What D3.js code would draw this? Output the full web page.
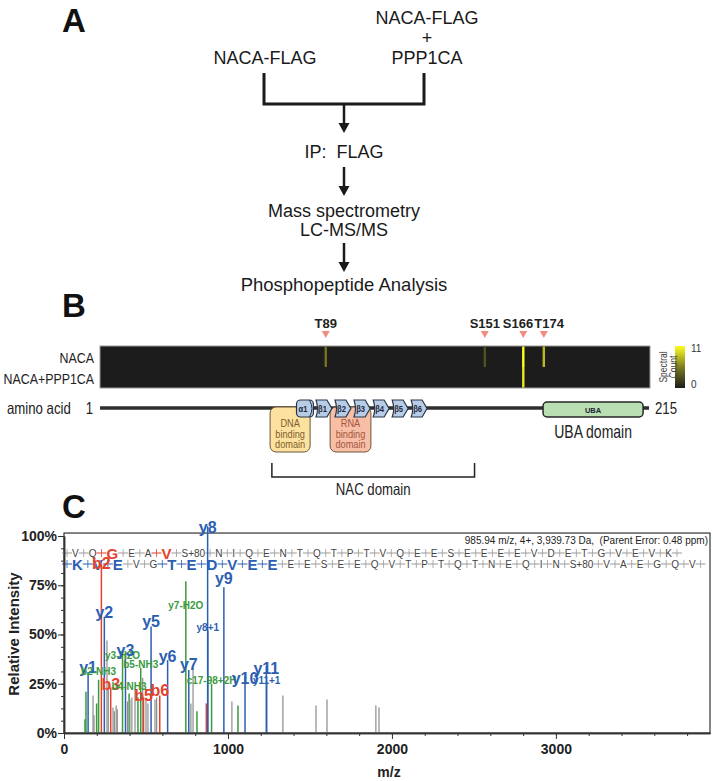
<!DOCTYPE html>
<meta charset="utf-8">
<style>
body { margin: 0; background: #fff; }
svg { font-family: "Liberation Sans", Arial, sans-serif; }
</style>
<svg width="713" height="781"></svg>
<script src="https://d3js.org/d3.v7.min.js"></script>
<script>

// ---------- panel A : workflow ----------
var leftSample = "NACA-FLAG";
var rightSample = ["NACA-FLAG", "+", "PPP1CA"];
var flowSteps = [["IP:\u00a0 FLAG"], ["Mass spectrometry", "LC-MS/MS"], ["Phosphopeptide Analysis"]];

// ---------- panel B : phosphosites + domain map ----------
var proteinLength = 215;
var sampleNames = ["NACA", "NACA+PPP1CA"];
var siteNames = ["T89", "S151", "S166", "T174"];
var sitePositions = [89, 151, 166, 174];
var countsNACA = [5, 3, 11, 8];
var countsPPP1CA = [0, 0, 10, 0];
var countMax = 11;
var structNames = ["α1", "β1", "β2", "β3", "β4", "β5", "β6"];
var structStart = [77.6, 85.2, 92.6, 100, 107.5, 114.9, 122.3];
var structEnd = [84.2, 91.4, 98.8, 106.3, 113.7, 121.1, 128.5];
var domainNames = [["DNA", "binding", "domain"], ["RNA", "binding", "domain"]];
var domainStart = [67.3, 90.7];
var domainEnd = [82.9, 106.6];
var ubaRange = [173.7, 212.7];
var nacRange = [68, 147];

// ---------- panel C : MS/MS spectrum ----------
var peptideForward = ["V","Q","G","E","A","V","S+80","N","I","Q","E","N","T","Q","T","P","T","V","Q","E",
                      "E","S","E","E","E","E","V","D","E","T","G","V","E","V","K"];
var peptideReverse = peptideForward.slice().reverse();
var forwardHits = [2, 5];
var reverseHits = [0, 1, 2, 5, 6, 7, 8, 9, 10];
var headerText = "985.94 m/z, 4+, 3,939.73 Da,\u00a0 (Parent Error: 0.48 ppm)";
var mzMax = 3939.73;

var peakMz = [128, 134, 147, 177, 183, 199, 211, 228, 246, 262,
              270, 285, 299, 307, 318, 325, 357, 375, 387, 397,
              402, 414, 433, 451, 468, 480, 485, 500, 512, 531,
              555, 565, 584, 632, 743, 761, 774, 787, 811, 868,
              876, 877, 900, 975, 1024, 1061, 1104, 1234, 1236, 1335,
              1537, 1604, 1902, 1921];
var peakIntensity = [7, 21, 31, 19, 9, 15, 27, 86, 59, 47,
                     22, 23, 13, 11, 14, 12, 42, 40, 16, 20,
                     17, 18, 22, 18, 33, 28, 18, 17, 15, 54,
                     17, 18, 19, 37, 77, 32, 15, 33, 11, 15,
                     105, 52, 25, 74, 16, 14, 29, 34, 26, 19,
                     14, 17, 14, 13];
var peakType = ["n","n","y","o","o","n","n","b","y","o",
                "o","b","o","o","o","o","n","y","o","n",
                "o","o","o","n","n","o","b","o","o","y",
                "o","o","b","y","n","y","o","o","n","b",
                "y","y","n","y","o","n","y","y","y","o",
                "o","o","o","o"];
var peakLabel = ["","","y1","","","","b2-NH3","b2","y2","",
                 "","b3","","","","","y3-H2O","y3","","b4-NH3",
                 "","","","","b5-NH3","","b5","","","y5",
                 "","","b6","y6","y7-H2O","y7","","","","",
                 "y8","y8+1","c17-98+2H","y9","","","y10","y11","y11+1","",
                 "","","",""];
var labelLevel = [0,0,30.5,0,0,0,29.5,83,58.5,0,
                  0,22,0,0,0,0,37.5,39,0,22,
                  0,0,0,0,33,0,16,0,0,54,
                  0,0,19,36,63,32,0,0,0,0,
                  101.5,52,25,75.6,0,0,25,30,25,0,
                  0,0,0,0];

var typeColor = { b: "#e4412d", y: "#2c5fb2", n: "#3a9a3c", o: "#8c8c8c" };

var svg = d3.select("svg");

// condensed text: the figure's narrow face is not installed, so squeeze Liberation Sans
function narrow(g, px, py, txt, size, anchor, fill) {
  return g.append("text")
      .attr("transform", "translate(" + px + "," + py + ") scale(0.8,1)")
      .attr("text-anchor", anchor || "start")
      .attr("font-size", size)
      .attr("fill", fill || "#222")
      .text(txt);
}

// panel letters
[["A", 32], ["B", 317], ["C", 518]].forEach(function(p) {
  svg.append("text").attr("x", 62).attr("y", p[1])
      .attr("font-size", 33).attr("font-weight", "bold").attr("fill", "#111").text(p[0]);
});

// ================= panel A =================
var gA = svg.append("g").attr("font-size", 18).attr("fill", "#1a1a1a").attr("text-anchor", "middle");
var leftX = 264, rightX = 424, flowX = 344;

gA.append("text").attr("x", leftX + 1).attr("y", 64).text(leftSample);
gA.selectAll(".rs").data(rightSample).enter().append("text")
    .attr("x", rightX + 3)
    .attr("y", function(d, i) { return 24 + i * 20; })
    .attr("font-weight", function(d) { return d === "+" ? 300 : null; })
    .text(function(d) { return d; });

gA.append("path")
    .attr("d", "M" + leftX + ",73V104H" + rightX + "V73")
    .attr("fill", "none").attr("stroke", "#1a1a1a").attr("stroke-width", 3);

function arrow(y0, y1) {
  gA.append("line").attr("x1", flowX).attr("x2", flowX).attr("y1", y0).attr("y2", y1 - 8)
      .attr("stroke", "#1a1a1a").attr("stroke-width", 2.5);
  gA.append("path").attr("d", "M" + (flowX - 5.5) + "," + (y1 - 10) + "L" + (flowX + 5.5) + "," + (y1 - 10) + "L" + flowX + "," + y1 + "Z")
      .attr("fill", "#1a1a1a");
}
var stepTop = [158, 217, 291];
var arrowSpans = [[104, 133], [167, 196], [243, 272]];
flowSteps.forEach(function(lines, i) {
  arrow(arrowSpans[i][0], arrowSpans[i][1]);
  lines.forEach(function(t, j) {
    gA.append("text").attr("x", flowX).attr("y", stepTop[i] + j * 19)
        .attr("font-size", i === 2 ? 18.5 : 18).text(t);
  });
});

// ================= panel B =================
var aa = d3.scaleLinear().domain([1, proteinLength]).range([100, 649]);
var rows = d3.scaleBand().domain(sampleNames).range([346, 388]);
var heat = d3.scaleLinear().domain([0, countMax / 2, countMax]).range(["#1c1c1c", "#7d7d22", "#ffff20"]);
var gB = svg.append("g");

// site markers; labels pushed apart where neighbouring sites crowd
var siteLabels = siteNames.map(function(s, i) {
  var t = gB.append("text").attr("y", 328).attr("text-anchor", "middle")
      .attr("font-size", 13).attr("font-weight", "bold").attr("fill", "#222").text(s);
  return { node: t, x: aa(sitePositions[i]), w: t.node().getComputedTextLength() };
});
for (var it = 0; it < 30; it++) {
  for (var k = 0; k < siteLabels.length - 1; k++) {
    var a = siteLabels[k], b = siteLabels[k + 1];
    var need = (a.w + b.w) / 2 + 1, gap = b.x - a.x;
    if (gap < need) { a.x -= (need - gap) / 2; b.x += (need - gap) / 2; }
  }
}
siteLabels.forEach(function(l, i) {
  l.node.attr("x", l.x);
  var px = aa(sitePositions[i]);
  gB.append("path").attr("d", "M" + (px - 4) + ",331L" + (px + 4) + ",331L" + px + ",338Z").attr("fill", "#f28b82");
});

// heatmap
gB.append("rect").attr("x", aa(1)).attr("y", rows.range()[0]).attr("width", aa(proteinLength) - aa(1) + 1)
    .attr("height", rows.range()[1] - rows.range()[0])
    .attr("fill", heat(0)).attr("stroke", "#9a9a9a").attr("stroke-width", 1);
var sampleCounts = [countsNACA, countsPPP1CA];
sampleNames.forEach(function(name, r) {
  sitePositions.forEach(function(pos, i) {
    var c = sampleCounts[r][i];
    if (!c) return;
    gB.append("rect").attr("x", aa(pos) - 1.2).attr("y", rows(name) + (r === 0 ? 0.5 : 0))
        .attr("width", 2.4).attr("height", rows.bandwidth() - 0.5).attr("fill", heat(c));
  });
  narrow(gB, 94, rows(name) + rows.bandwidth() / 2 + 6, name, 15.5, "end");
});

// colour bar
var cbar = d3.scaleLinear().domain([0, countMax]).range([388, 346]);
var grad = svg.append("defs").append("linearGradient").attr("id", "cb")
    .attr("x1", 0).attr("x2", 0).attr("y1", 1).attr("y2", 0);
grad.selectAll("stop").data([0, countMax / 2, countMax]).enter().append("stop")
    .attr("offset", function(d) { return d / countMax; })
    .attr("stop-color", function(d) { return heat(d); });
gB.append("rect").attr("x", 675).attr("y", cbar(countMax)).attr("width", 10)
    .attr("height", cbar(0) - cbar(countMax)).attr("fill", "url(#cb)");
[0, countMax].forEach(function(v) {
  gB.append("text").attr("x", 691).attr("y", cbar(v) + (v ? 6 : 0)).attr("font-size", 10)
      .attr("fill", "#333").text(v);
});
var cbLabel = gB.append("text").attr("transform", "translate(668,367) rotate(-90) scale(0.85,1)")
    .attr("text-anchor", "middle").attr("font-size", 10).attr("fill", "#444");
cbLabel.append("tspan").attr("x", 0).attr("dy", -1).text("Spectral");
cbLabel.append("tspan").attr("x", 0).attr("dy", 10).text("Count");

// backbone
var lineY = 408;
narrow(gB, 7, lineY + 6, "amino acid", 16.5);
narrow(gB, 93, lineY + 6, "1", 16.5, "end");
narrow(gB, 655, lineY + 6, proteinLength, 16.5);
gB.append("line").attr("x1", aa(1)).attr("x2", aa(proteinLength)).attr("y1", lineY).attr("y2", lineY)
    .attr("stroke", "#2e2e2e").attr("stroke-width", 3.5);

// binding domains
var domainFill = ["#fde19e", "#f8bea6"], domainText = ["#7d5f2f", "#a4563c"];
domainNames.forEach(function(lines, i) {
  var x0 = aa(domainStart[i]), x1 = aa(domainEnd[i]);
  gB.append("rect").attr("x", x0).attr("y", 407).attr("width", x1 - x0).attr("height", 45).attr("rx", 6)
      .attr("fill", domainFill[i]).attr("stroke", "#6a5638").attr("stroke-width", 1);
  lines.forEach(function(t, j) {
    narrow(gB, (x0 + x1) / 2, 427 + j * 10.5, t, 11.5, "middle", domainText[i]);
  });
});

// secondary structure
structNames.forEach(function(n, i) {
  var x0 = aa(structStart[i]), x1 = aa(structEnd[i]), top = 400, bot = 417, mid = (top + bot) / 2;
  if (i === 0) {
    gB.append("rect").attr("x", x0).attr("y", top).attr("width", x1 - x0).attr("height", bot - top).attr("rx", 4)
        .attr("fill", "#b8cce6").attr("stroke", "#263548").attr("stroke-width", 1.2);
    gB.append("path").attr("d", "M" + (x1 - 4) + "," + top + "Q" + (x1 + 1) + "," + mid + " " + (x1 - 4) + "," + bot)
        .attr("fill", "none").attr("stroke", "#263548").attr("stroke-width", 1);
  } else {
    gB.append("path").attr("d", "M" + x0 + "," + top + "H" + (x1 - 5) + "L" + x1 + "," + mid + "L" + (x1 - 5) + "," + bot + "H" + x0 + "Q" + (x0 + 3) + "," + mid + " " + x0 + "," + top + "Z")
        .attr("fill", "#b8cce6").attr("stroke", "#263548").attr("stroke-width", 1.2);
  }
  narrow(gB, (x0 + x1) / 2 - (i ? 1.5 : 2), mid + 3.5, n, 9.5, "middle", "#1d2a3c").attr("font-weight", "bold");
});

// UBA
var u0 = aa(ubaRange[0]), u1 = aa(ubaRange[1]);
gB.append("rect").attr("x", u0).attr("y", 402).attr("width", u1 - u0).attr("height", 15).attr("rx", 4)
    .attr("fill", "#b9dfb3").attr("stroke", "#262626").attr("stroke-width", 1.5);
gB.append("text").attr("x", (u0 + u1) / 2).attr("y", 412.5).attr("text-anchor", "middle")
    .attr("font-size", 7.5).attr("font-weight", "bold").attr("fill", "#223").text("UBA");
narrow(gB, (u0 + u1) / 2, 438, "UBA domain", 17.5, "middle");

// NAC bracket
var n0 = aa(nacRange[0]), n1 = aa(nacRange[1]);
gB.append("path").attr("d", "M" + n0 + ",463V477H" + n1 + "V463").attr("fill", "none")
    .attr("stroke", "#222").attr("stroke-width", 1.5);
narrow(gB, (n0 + n1) / 2, 495, "NAC domain", 16.5, "middle");

// ================= panel C =================
var x = d3.scaleLinear().domain([0, mzMax]).range([64, 710]);
var y = d3.scaleLinear().domain([0, 100]).range([733, 536]);
var gC = svg.append("g");

gC.append("rect").attr("x", x(0)).attr("y", y(101.5)).attr("width", x(mzMax) - x(0)).attr("height", y(0) - y(101.5))
    .attr("fill", "none").attr("stroke", "#333").attr("stroke-width", 1.2);

gC.append("text").attr("x", 708).attr("y", 544).attr("text-anchor", "end").attr("font-size", 10)
    .attr("fill", "#222").text(headerText);

// sequence ladder
function drawSequence(residues, hits, yMid, hitColor) {
  var g = gC.append("g");
  var cx = 62;
  function sep(px, col) {
    g.append("line").attr("x1", px - 5).attr("x2", px + 5).attr("y1", yMid).attr("y2", yMid).attr("stroke", col).attr("stroke-width", 1);
    g.append("line").attr("x1", px).attr("x2", px).attr("y1", yMid - 4).attr("y2", yMid + 4).attr("stroke", col).attr("stroke-width", 0.8);
  }
  residues.forEach(function(r, i) {
    var hit = hits.indexOf(i) >= 0;
    sep(cx + 5, hit ? hitColor : "#9a9a9a");
    var t = g.append("text").attr("x", cx + 10).attr("y", yMid + (hit ? 5.5 : 3.5))
        .attr("font-size", hit ? 15 : 10).attr("font-weight", hit ? "bold" : null)
        .attr("fill", hit ? hitColor : "#444").text(r);
    cx += 10 + t.node().getComputedTextLength();
  });
  sep(cx + 5, "#9a9a9a");
}
drawSequence(peptideForward, forwardHits, 553, typeColor.b);
drawSequence(peptideReverse, reverseHits, 564, typeColor.y);

// peaks
var peaks = peakMz.map(function(m, i) {
  return { mz: m, v: peakIntensity[i], t: peakType[i], label: peakLabel[i], lv: labelLevel[i] };
});
gC.selectAll(".peak").data(peaks).enter().append("line")
    .attr("x1", function(d) { return x(d.mz); }).attr("x2", function(d) { return x(d.mz); })
    .attr("y1", y(0)).attr("y2", function(d) { return y(d.v); })
    .attr("stroke", function(d) { return typeColor[d.t]; })
    .attr("stroke-width", function(d) { return d.t === "o" ? 1.2 : 1.5; });

var labelled = peaks.filter(function(d) { return d.label; });
gC.selectAll(".plab").data(labelled).enter().append("text")
    .attr("x", function(d) { return x(d.mz); })
    .attr("y", function(d) { return y(d.lv); })
    .attr("text-anchor", "middle")
    .attr("font-weight", "bold")
    .attr("font-size", function(d) { return /^[by]\d+$/.test(d.label) ? 16 : 10; })
    .attr("fill", function(d) { return typeColor[d.t]; })
    .text(function(d) { return d.label; });

// axes
var yAxis = gC.append("g").attr("transform", "translate(" + x(0) + ",0)")
    .call(d3.axisLeft(y).tickValues([0, 25, 50, 75, 100]).tickFormat(function(d) { return d + "%"; }).tickSize(6).tickSizeOuter(0));
gC.append("g").attr("transform", "translate(" + x(0) + ",0)")
    .call(d3.axisLeft(y).tickValues(d3.range(0, 100.1, 6.25)).tickFormat("").tickSize(3).tickSizeOuter(0));
var xAxis = gC.append("g").attr("transform", "translate(0," + y(0) + ")")
    .call(d3.axisBottom(x).tickValues([0, 1000, 2000, 3000]).tickFormat(d3.format("d")).tickSize(6).tickSizeOuter(0));
gC.append("g").attr("transform", "translate(0," + y(0) + ")")
    .call(d3.axisBottom(x).tickValues(d3.range(200, 3900, 200)).tickFormat("").tickSize(3).tickSizeOuter(0));
gC.selectAll(".domain").attr("stroke", "#333").attr("stroke-width", 1.5);
gC.selectAll(".tick line").attr("stroke", "#333");
[yAxis, xAxis].forEach(function(a) {
  a.selectAll("text").attr("font-size", 14).attr("font-weight", "bold").attr("fill", "#222")
      .attr("font-family", "\"Liberation Sans\", Arial, sans-serif");
});
yAxis.selectAll("text").attr("x", -7);
xAxis.selectAll("text").attr("y", 11);

gC.append("text").attr("x", 389).attr("y", 777).attr("text-anchor", "middle")
    .attr("font-size", 14).attr("font-weight", "bold").attr("fill", "#222").text("m/z");
gC.append("text").attr("transform", "translate(19,634) rotate(-90)").attr("text-anchor", "middle")
    .attr("font-size", 15).attr("font-weight", "bold").attr("fill", "#222").text("Relative Intensity");

</script>
